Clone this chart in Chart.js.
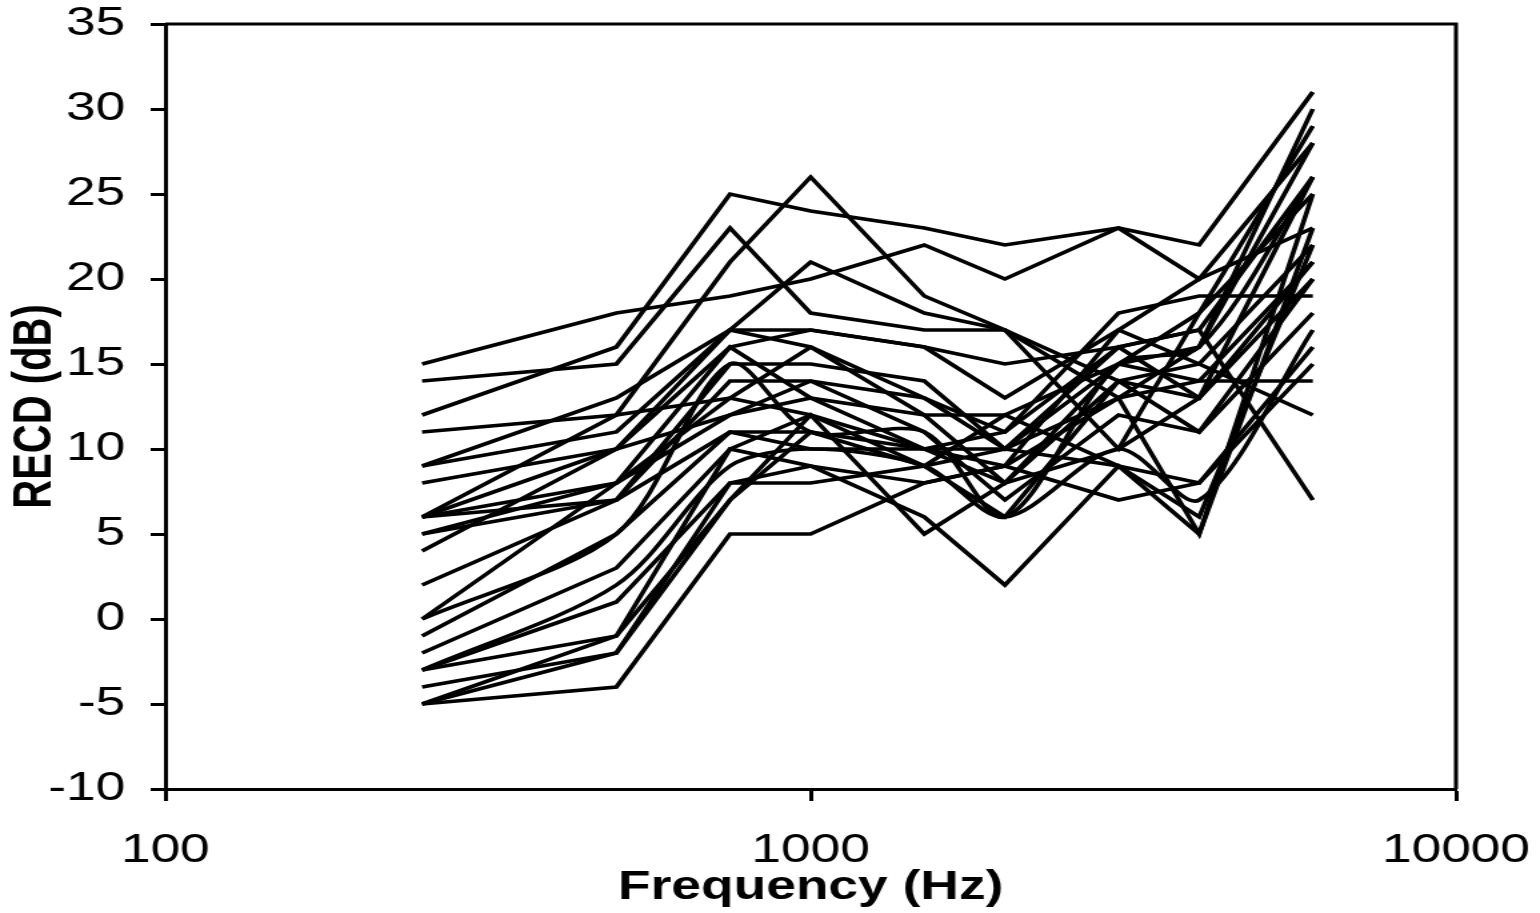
<!DOCTYPE html>
<html><head><meta charset="utf-8">
<style>
html,body{margin:0;padding:0;background:#fff;overflow:hidden}
#c{display:block}
</style>
<script src="https://cdn.jsdelivr.net/npm/chart.js@4.4.1/dist/chart.umd.min.js"></script>
</head><body>
<canvas id="c" width="1155" height="913" style="width:1540px;height:913px"></canvas>
<script>
// ---- data ----
const frequencies = [250, 500, 750, 1000, 1500, 2000, 3000, 4000, 6000];
const xTickValues = [100, 1000, 10000];
const yMin = -10, yMax = 35, yStep = 5;
const xTitle = 'Frequency (Hz)';
const yTitle = 'RECD (dB)';

const recd01 = [15, 18, 19, 20, 22, 20, 23, 22, 31];
const recd02 = [12, 16, 25, 24, 23, 22, 23, 20, 28];
const recd03 = [11, 12, 21, 26, 19, 17, 13, 16, 30];
const recd04 = [14, 15, 23, 18, 17, 17, 14, 13, 26];
const recd05 = [9, 13, 17, 21, 18, 17, 10, 18, 29];
const recd06 = [9, 11, 17, 17, 16, 15, 16, 17, 7];
const recd07 = [8, 10, 16, 17, 16, 13, 17, 15, 12];
const recd08 = [6, 10, 17, 16, 13, 11, 18, 19, 19];
const recd09 = [6, 8, 16, 13, 12, 12, 15, 14, 14];
const recd10 = [6, 7, 15, 15, 14, 10, 15, 16, 28];
const recd11 = [5, 7, 14, 14, 13, 10, 16, 17, 26];
const recd12 = [6, 12, 13, 12, 10, 9, 17, 20, 23];
const recd13 = [5, 8, 13, 16, 12, 8, 15, 18, 25];
const recd14 = [4, 10, 12, 13, 10, 8, 14, 15, 22];
const recd15 = [2, 7, 11, 10, 10, 10, 13, 14, 21];
const recd16 = [0, 5, 15, 11, 11, 6, 15, 16, 26];
const recd17 = [0, 8, 12, 14, 11, 7, 12, 11, 20];
const recd18 = [-1, 5, 11, 11, 9, 10, 9, 8, 16];
const recd19 = [-2, 3, 10, 12, 9, 6, 14, 11, 18];
const recd20 = [-3, 2, 9, 10, 9, 6, 10, 7, 17];
const recd21 = [-3, 1, 8, 9, 8, 9, 13, 5, 25];
const recd22 = [-3, -1, 7, 11, 10, 11, 16, 13, 21];
const recd23 = [-4, -2, 8, 8, 9, 12, 9, 6, 22];
const recd24 = [-5, -1, 10, 9, 6, 2, 9, 5, 23];
const recd25 = [-5, -4, 5, 5, 8, 9, 7, 8, 15];
const recd26 = [-5, -2, 7, 12, 5, 8, 10, 13, 20];

const seriesList = [recd01, recd02, recd03, recd04, recd05, recd06, recd07, recd08, recd09,
  recd10, recd11, recd12, recd13, recd14, recd15, recd16, recd17, recd18, recd19, recd20,
  recd21, recd22, recd23, recd24, recd25, recd26];
const smoothSeries = [recd16, recd20];

// ---- chart ----
const FONT = '"Liberation Sans", Arial, Helvetica, sans-serif';

const frame = {
  id: 'frame',
  afterDraw(chart) {
    const {ctx, chartArea: a} = chart;
    ctx.save();
    ctx.strokeStyle = '#000';
    ctx.lineWidth = 3;
    ctx.beginPath();
    ctx.moveTo(a.left, a.top);
    ctx.lineTo(a.right, a.top);
    ctx.lineTo(a.right, a.bottom);
    ctx.stroke();
    ctx.restore();
  }
};

const datasets = seriesList.map((s, i) => ({
  label: 'Ear ' + (i + 1),
  data: frequencies.map((f, j) => ({x: f, y: s[j]})),
  borderColor: '#000',
  borderWidth: 3.6,
  pointRadius: 0,
  fill: false,
  tension: smoothSeries.includes(s) ? 0.3 : 0
}));

new Chart(document.getElementById('c'), {
  type: 'line',
  data: {datasets},
  options: {
    responsive: false,
    animation: false,
    devicePixelRatio: 1,
    layout: {padding: {left: 0, right: 63, top: 24, bottom: 0}},
    plugins: {legend: {display: false}, tooltip: {enabled: false}},
    scales: {
      x: {
        type: 'logarithmic',
        min: 100, max: 10000,
        afterBuildTicks: a => { a.ticks = xTickValues.map(v => ({value: v})); },
        afterFit: a => { a.height = 124; a.paddingLeft = 0; a.paddingRight = 0; },
        ticks: {
          callback: v => String(v),
          color: '#000', autoSkip: false, maxRotation: 0,
          font: {family: FONT, size: 40}, padding: 26
        },
        grid: {drawOnChartArea: false, tickLength: 12, tickWidth: 3, tickColor: '#000'},
        border: {color: '#000', width: 3},
        title: {display: true, text: xTitle, color: '#000',
          font: {family: FONT, size: 40, weight: 'bold', lineHeight: 1.2},
          padding: {top: 0, bottom: 1}}
      },
      y: {
        min: yMin, max: yMax,
        afterFit: a => { a.width = 124; a.paddingTop = 0; a.paddingBottom = 0; },
        ticks: {stepSize: yStep, color: '#000', font: {family: FONT, size: 40}, padding: 19},
        grid: {drawOnChartArea: false, tickLength: 11, tickWidth: 3, tickColor: '#000'},
        border: {color: '#000', width: 3},
        title: {display: true, text: yTitle, color: '#000',
          font: {family: FONT, size: 40, weight: 'bold', lineHeight: 1.2},
          padding: {top: 3, bottom: 0}}
      }
    }
  },
  plugins: [frame]
});
</script>
</body></html>
